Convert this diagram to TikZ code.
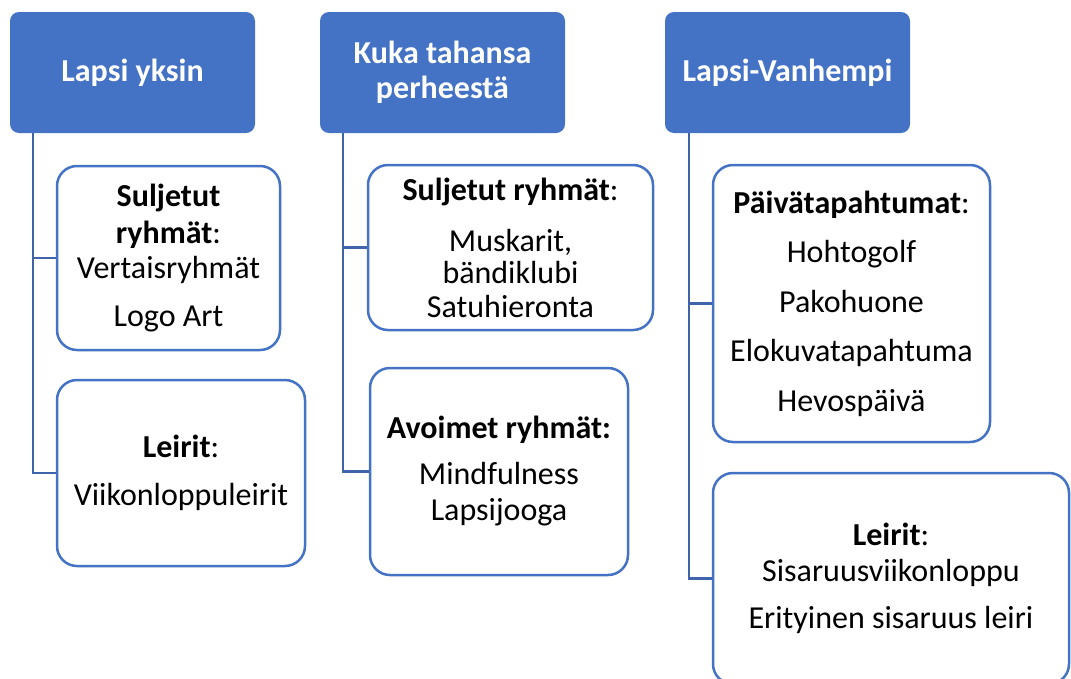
\documentclass[tikz,border=0pt]{standalone}
\usepackage{fontspec}
\setmainfont{Carlito}
\usetikzlibrary{positioning,calc}

\definecolor{hdrblue}{HTML}{4472C4}
\definecolor{lineblue}{HTML}{3F64AC}

\begin{document}
\begin{tikzpicture}[
    x=1pt, y=-1pt,
    header/.style={rectangle, fill=hdrblue, text=white, font=\bfseries, align=center, minimum width=245pt, minimum height=121pt, rounded corners=9pt},
    item/.style={rectangle, draw=hdrblue, line width=2.5pt, fill=white, align=center, rounded corners=20pt},
    link/.style={draw=lineblue, line width=2.5pt}
]
\useasboundingbox (0,0) rectangle (1071,678);
\fontsize{32}{33}\selectfont

% Headers
\node[header] (hdrA) at (132.5,72.5) {Lapsi yksin};
\node[header] (hdrB) at (442.5,72.5) {Kuka tahansa\\[2pt]perheestä};
\node[header] (hdrC) at (787.5,72.5) {Lapsi-Vanhempi};

% Boxes
\node[item, minimum width=223pt, minimum height=184pt] (closedA) at (168.5,258) {\textbf{Suljetut}\\[4pt]\textbf{ryhmät}:\\[2pt]Vertaisryhmät\\[15pt]Logo Art};
\node[item, minimum width=248pt, minimum height=186pt] (campA) at (181,473) {\textbf{Leirit}:\\[15pt]Viikonloppuleirit};
\node[item, minimum width=285pt, minimum height=165pt] (closedB) at (510.5,247.5) {\textbf{Suljetut ryhmät}:\\[18pt]Muskarit,\\[-1pt]bändiklubi\\[1pt]Satuhieronta};
\node[item, minimum width=258pt, minimum height=207pt] (openB) at (499,471.5) {\textbf{Avoimet ryhmät:}\\[13pt]Mindfulness\\[3pt]Lapsijooga};
\node[item, minimum width=277pt, minimum height=277pt] (dayC) at (851.5,303.5) {\textbf{Päivätapahtumat}:\\[16.5pt]Hohtogolf\\[16.5pt]Pakohuone\\[16.5pt]Elokuvatapahtuma\\[16.5pt]Hevospäivä};
\node[item, minimum width=356pt, minimum height=211pt] (campC) at (891,578.5) {\textbf{Leirit}:\\[3pt]Sisaruusviikonloppu\\[14pt]Erityinen sisaruus leiri};

% Lines
\coordinate (trunkA) at ([xshift=23pt]hdrA.south west);
\coordinate (trunkB) at ([xshift=23pt]hdrB.south west);
\coordinate (trunkC) at ([xshift=24pt]hdrC.south west);
\draw[link] (trunkA) |- (closedA.west);
\draw[link] (trunkA) |- (campA.west);
\draw[link] (trunkB) |- (closedB.west);
\draw[link] (trunkB) |- (openB.west);
\draw[link] (trunkC) |- (dayC.west);
\draw[link] (trunkC) |- (campC.west);

\end{tikzpicture}
\end{document}
